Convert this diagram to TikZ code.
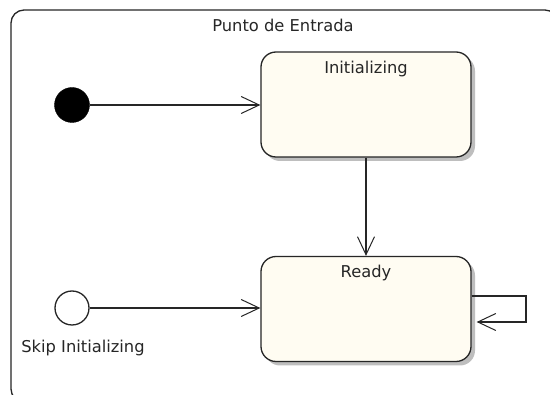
\documentclass[tikz,border=0pt]{standalone}
\usepackage{fontspec}
\setmainfont{DejaVu Sans}
\usetikzlibrary{arrows.meta,shadows}
\definecolor{statefill}{RGB}{255,252,242}
\definecolor{shadowgray}{RGB}{190,190,190}
\begin{document}
\begin{tikzpicture}[x=1pt,y=-1pt,
  every node/.style={font=\fontsize{16.3}{18}\selectfont, text=black!85},
  line/.style={line width=1.3pt, draw=black!85},
  statebox/.style={line, fill=statefill, rounded corners=15pt,
    minimum width=210pt, minimum height=105pt, inner sep=0pt,
    drop shadow={shadow xshift=4pt, shadow yshift=-4pt, fill=shadowgray, opacity=1}},
  trans/.style={line, -{Straight Barb[length=18pt,width=17pt,line width=1pt]}}
]
\useasboundingbox (0,0) rectangle (550,395);
\fill[white] (0,0) rectangle (550,395);
\begin{scope}
\clip (0,0) rectangle (550,395);
\draw[line, rounded corners=13pt] (11,10) rectangle (558,402);
\end{scope}
\node (title) at (283,25) {Punto de Entrada};

\node[statebox] (init) at (366,104.5) {};
\node[anchor=base] (initlabel) at (366,74) {Initializing};
\node[statebox] (ready) at (366,309) {};
\node[anchor=base] (readylabel) at (366,278) {Ready};

\node[circle, fill=black, draw=black, minimum size=35pt, inner sep=0pt] (start) at (72,105) {};
\node[circle, fill=white, line, minimum size=34pt, inner sep=0pt] (skip) at (72,308) {};
\node[anchor=base] (skiplabel) at (83,353) {Skip Initializing};

\draw[trans] (start) -- (start -| init.west);
\draw[trans] (skip) -- (skip -| ready.west);
\draw[trans] (init.south) -- (ready.north);

\coordinate (loopa) at (526,296);
\coordinate (loopb) at (526,322);
\draw[trans] (ready.east |- loopa) -- (loopa) -- (loopb) -- ([xshift=5pt]ready.east |- loopb);
\end{tikzpicture}
\end{document}
